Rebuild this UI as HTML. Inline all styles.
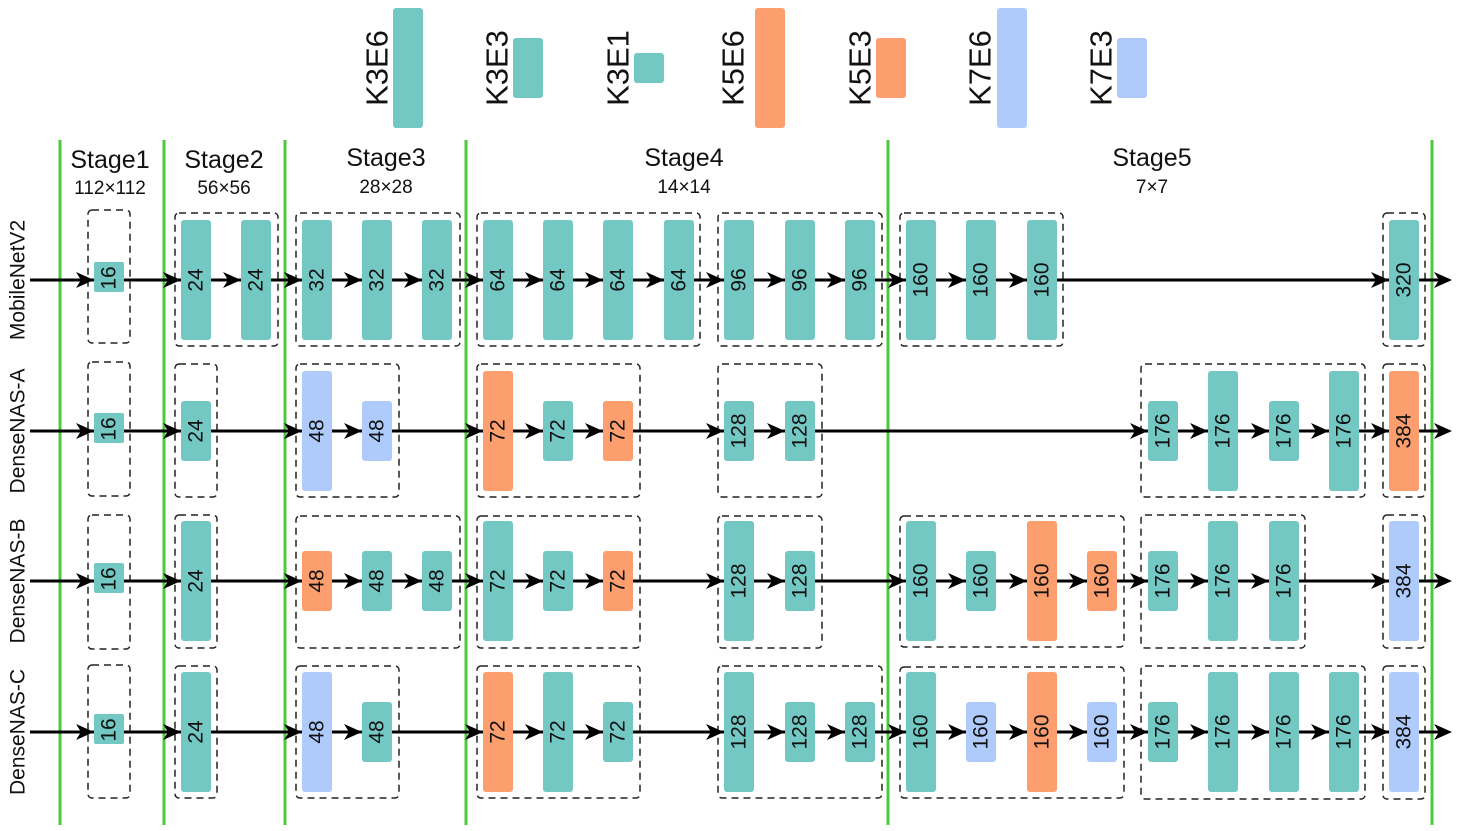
<!DOCTYPE html>
<html><head><meta charset="utf-8"><style>
html,body{margin:0;padding:0;background:#fff;width:1460px;height:831px;overflow:hidden}
svg text{font-family:"Liberation Sans",sans-serif;fill:#111}
.t{fill:#73c8c4}.o{fill:#fc9e6d}.b{fill:#aecbfc}
.d{fill:none;stroke:#222;stroke-width:1.5;stroke-dasharray:7 5}
.g{stroke:#4cc93c;stroke-width:3}
.l{stroke:#000;stroke-width:3}
.bl text{font-size:21px}
</style></head><body>
<svg width="1460" height="831" viewBox="0 0 1460 831" xmlns="http://www.w3.org/2000/svg">
<defs>
<polygon id="ah" points="0,0 -18,-8 -13,0 -18,8" fill="#000"/>
</defs>
<!-- legend -->
<rect class="t" x="393" y="8" width="30" height="120" rx="3"/>
<rect class="t" x="513" y="38" width="30" height="60" rx="3"/>
<rect class="t" x="634" y="53" width="30" height="30" rx="3"/>
<rect class="o" x="755" y="8" width="30" height="120" rx="3"/>
<rect class="o" x="876" y="38" width="30" height="60" rx="3"/>
<rect class="b" x="997" y="8" width="30" height="120" rx="3"/>
<rect class="b" x="1117" y="38" width="30" height="60" rx="3"/>
<g font-size="31">
<text transform="translate(377,68) rotate(-90)" text-anchor="middle" dominant-baseline="central">K3E6</text>
<text transform="translate(497,68) rotate(-90)" text-anchor="middle" dominant-baseline="central">K3E3</text>
<text transform="translate(618,68) rotate(-90)" text-anchor="middle" dominant-baseline="central">K3E1</text>
<text transform="translate(733,68) rotate(-90)" text-anchor="middle" dominant-baseline="central">K5E6</text>
<text transform="translate(860,68) rotate(-90)" text-anchor="middle" dominant-baseline="central">K5E3</text>
<text transform="translate(980,68) rotate(-90)" text-anchor="middle" dominant-baseline="central">K7E6</text>
<text transform="translate(1101,68) rotate(-90)" text-anchor="middle" dominant-baseline="central">K7E3</text>
</g>
<!-- stage lines -->
<line class="g" x1="60" y1="140" x2="60" y2="825"/>
<line class="g" x1="164" y1="140" x2="164" y2="825"/>
<line class="g" x1="285" y1="140" x2="285" y2="825"/>
<line class="g" x1="466" y1="140" x2="466" y2="825"/>
<line class="g" x1="888" y1="140" x2="888" y2="825"/>
<line class="g" x1="1432" y1="140" x2="1432" y2="825"/>
<!-- headers -->
<g text-anchor="middle">
<text x="110" y="168" font-size="25">Stage1</text><text x="110" y="194" font-size="19">112×112</text>
<text x="224" y="168" font-size="25">Stage2</text><text x="224" y="194" font-size="19">56×56</text>
<text x="386" y="166" font-size="25">Stage3</text><text x="386" y="193" font-size="19">28×28</text>
<text x="684" y="166" font-size="25">Stage4</text><text x="684" y="193" font-size="19">14×14</text>
<text x="1152" y="166" font-size="25">Stage5</text><text x="1152" y="193" font-size="19">7×7</text>
</g>
<!-- row labels -->
<g font-size="21" text-anchor="middle">
<text transform="translate(18,280) rotate(-90)" dominant-baseline="central">MobileNetV2</text>
<text transform="translate(18,431) rotate(-90)" dominant-baseline="central">DenseNAS-A</text>
<text transform="translate(18,581) rotate(-90)" dominant-baseline="central">DenseNAS-B</text>
<text transform="translate(18,732) rotate(-90)" dominant-baseline="central">DenseNAS-C</text>
</g>
<!-- dashed boxes -->
<rect class="d" x="88" y="210" width="42" height="133" rx="4"/>
<rect class="d" x="175" y="213" width="103" height="133" rx="4"/>
<rect class="d" x="296" y="213" width="164" height="133" rx="4"/>
<rect class="d" x="477" y="213" width="223" height="133" rx="4"/>
<rect class="d" x="718" y="213" width="164" height="133" rx="4"/>
<rect class="d" x="900" y="213" width="163" height="133" rx="4"/>
<rect class="d" x="1383" y="213" width="42" height="133" rx="4"/>

<rect class="d" x="88" y="362" width="42" height="134" rx="4"/>
<rect class="d" x="175" y="364" width="42" height="133" rx="4"/>
<rect class="d" x="296" y="364" width="103" height="133" rx="4"/>
<rect class="d" x="477" y="364" width="163" height="133" rx="4"/>
<rect class="d" x="718" y="364" width="104" height="133" rx="4"/>
<rect class="d" x="1141" y="364" width="224" height="133" rx="4"/>
<rect class="d" x="1383" y="364" width="42" height="133" rx="4"/>

<rect class="d" x="88" y="515" width="42" height="134" rx="4"/>
<rect class="d" x="175" y="515" width="42" height="133" rx="4"/>
<rect class="d" x="296" y="516" width="164" height="132" rx="4"/>
<rect class="d" x="477" y="516" width="163" height="132" rx="4"/>
<rect class="d" x="718" y="516" width="104" height="132" rx="4"/>
<rect class="d" x="900" y="516" width="224" height="131" rx="4"/>
<rect class="d" x="1141" y="515" width="164" height="133" rx="4"/>
<rect class="d" x="1383" y="515" width="42" height="133" rx="4"/>

<rect class="d" x="88" y="665" width="42" height="133" rx="4"/>
<rect class="d" x="175" y="666" width="42" height="132" rx="4"/>
<rect class="d" x="296" y="666" width="103" height="132" rx="4"/>
<rect class="d" x="477" y="666" width="163" height="132" rx="4"/>
<rect class="d" x="718" y="666" width="164" height="132" rx="4"/>
<rect class="d" x="900" y="667" width="224" height="131" rx="4"/>
<rect class="d" x="1141" y="666" width="224" height="133" rx="4"/>
<rect class="d" x="1383" y="666" width="42" height="133" rx="4"/>

<!-- row lines -->
<line class="l" x1="30" y1="280" x2="1440" y2="280"/>
<line class="l" x1="30" y1="431" x2="1440" y2="431"/>
<line class="l" x1="30" y1="581" x2="1440" y2="581"/>
<line class="l" x1="30" y1="732" x2="1440" y2="732"/>

<!-- arrowheads row1 -->
<g transform="translate(0,280)">
<use href="#ah" x="94"/><use href="#ah" x="181"/><use href="#ah" x="241"/><use href="#ah" x="302"/><use href="#ah" x="362"/><use href="#ah" x="422"/><use href="#ah" x="483"/><use href="#ah" x="543"/><use href="#ah" x="603"/><use href="#ah" x="664"/><use href="#ah" x="724"/><use href="#ah" x="785"/><use href="#ah" x="845"/><use href="#ah" x="906"/><use href="#ah" x="966"/><use href="#ah" x="1027"/><use href="#ah" x="1389"/><use href="#ah" x="1452"/>
</g>
<g transform="translate(0,431)">
<use href="#ah" x="94"/><use href="#ah" x="181"/><use href="#ah" x="302"/><use href="#ah" x="362"/><use href="#ah" x="483"/><use href="#ah" x="543"/><use href="#ah" x="603"/><use href="#ah" x="724"/><use href="#ah" x="785"/><use href="#ah" x="1148"/><use href="#ah" x="1208"/><use href="#ah" x="1269"/><use href="#ah" x="1329"/><use href="#ah" x="1389"/><use href="#ah" x="1452"/>
</g>
<g transform="translate(0,581)">
<use href="#ah" x="94"/><use href="#ah" x="181"/><use href="#ah" x="302"/><use href="#ah" x="362"/><use href="#ah" x="422"/><use href="#ah" x="483"/><use href="#ah" x="543"/><use href="#ah" x="603"/><use href="#ah" x="724"/><use href="#ah" x="785"/><use href="#ah" x="906"/><use href="#ah" x="966"/><use href="#ah" x="1027"/><use href="#ah" x="1087"/><use href="#ah" x="1148"/><use href="#ah" x="1208"/><use href="#ah" x="1269"/><use href="#ah" x="1389"/><use href="#ah" x="1452"/>
</g>
<g transform="translate(0,732)">
<use href="#ah" x="94"/><use href="#ah" x="181"/><use href="#ah" x="302"/><use href="#ah" x="362"/><use href="#ah" x="483"/><use href="#ah" x="543"/><use href="#ah" x="603"/><use href="#ah" x="724"/><use href="#ah" x="785"/><use href="#ah" x="845"/><use href="#ah" x="906"/><use href="#ah" x="966"/><use href="#ah" x="1027"/><use href="#ah" x="1087"/><use href="#ah" x="1148"/><use href="#ah" x="1208"/><use href="#ah" x="1269"/><use href="#ah" x="1329"/><use href="#ah" x="1389"/><use href="#ah" x="1452"/>
</g>

<!-- blocks row1 (c=280) -->
<g class="bl">
<rect class="t" x="94" y="262" width="30" height="30" rx="2"/>
<rect class="t" x="181" y="220" width="30" height="120" rx="3"/>
<rect class="t" x="241" y="220" width="30" height="120" rx="3"/>
<rect class="t" x="302" y="220" width="30" height="120" rx="3"/>
<rect class="t" x="362" y="220" width="30" height="120" rx="3"/>
<rect class="t" x="422" y="220" width="30" height="120" rx="3"/>
<rect class="t" x="483" y="220" width="30" height="120" rx="3"/>
<rect class="t" x="543" y="220" width="30" height="120" rx="3"/>
<rect class="t" x="603" y="220" width="30" height="120" rx="3"/>
<rect class="t" x="664" y="220" width="30" height="120" rx="3"/>
<rect class="t" x="724" y="220" width="30" height="120" rx="3"/>
<rect class="t" x="785" y="220" width="30" height="120" rx="3"/>
<rect class="t" x="845" y="220" width="30" height="120" rx="3"/>
<rect class="t" x="906" y="220" width="30" height="120" rx="3"/>
<rect class="t" x="966" y="220" width="30" height="120" rx="3"/>
<rect class="t" x="1027" y="220" width="30" height="120" rx="3"/>
<rect class="t" x="1389" y="220" width="30" height="120" rx="3"/>
<g text-anchor="middle" dominant-baseline="central">
<text transform="translate(109,278) rotate(-90)">16</text>
<text transform="translate(196,280) rotate(-90)">24</text>
<text transform="translate(256,280) rotate(-90)">24</text>
<text transform="translate(317,280) rotate(-90)">32</text>
<text transform="translate(377,280) rotate(-90)">32</text>
<text transform="translate(437,280) rotate(-90)">32</text>
<text transform="translate(498,280) rotate(-90)">64</text>
<text transform="translate(558,280) rotate(-90)">64</text>
<text transform="translate(618,280) rotate(-90)">64</text>
<text transform="translate(679,280) rotate(-90)">64</text>
<text transform="translate(739,280) rotate(-90)">96</text>
<text transform="translate(800,280) rotate(-90)">96</text>
<text transform="translate(860,280) rotate(-90)">96</text>
<text transform="translate(921,280) rotate(-90)">160</text>
<text transform="translate(981,280) rotate(-90)">160</text>
<text transform="translate(1042,280) rotate(-90)">160</text>
<text transform="translate(1404,280) rotate(-90)">320</text>
</g>

<!-- row2 (c=431) -->
<rect class="t" x="94" y="413" width="30" height="30" rx="2"/>
<rect class="t" x="181" y="401" width="30" height="60" rx="3"/>
<rect class="b" x="302" y="371" width="30" height="120" rx="3"/>
<rect class="b" x="362" y="401" width="30" height="60" rx="3"/>
<rect class="o" x="483" y="371" width="30" height="120" rx="3"/>
<rect class="t" x="543" y="401" width="30" height="60" rx="3"/>
<rect class="o" x="603" y="401" width="30" height="60" rx="3"/>
<rect class="t" x="724" y="401" width="30" height="60" rx="3"/>
<rect class="t" x="785" y="401" width="30" height="60" rx="3"/>
<rect class="t" x="1148" y="401" width="30" height="60" rx="3"/>
<rect class="t" x="1208" y="371" width="30" height="120" rx="3"/>
<rect class="t" x="1269" y="401" width="30" height="60" rx="3"/>
<rect class="t" x="1329" y="371" width="30" height="120" rx="3"/>
<rect class="o" x="1389" y="371" width="30" height="120" rx="3"/>
<g text-anchor="middle" dominant-baseline="central">
<text transform="translate(109,429) rotate(-90)">16</text>
<text transform="translate(196,431) rotate(-90)">24</text>
<text transform="translate(317,431) rotate(-90)">48</text>
<text transform="translate(377,431) rotate(-90)">48</text>
<text transform="translate(498,431) rotate(-90)">72</text>
<text transform="translate(558,431) rotate(-90)">72</text>
<text transform="translate(618,431) rotate(-90)">72</text>
<text transform="translate(739,431) rotate(-90)">128</text>
<text transform="translate(800,431) rotate(-90)">128</text>
<text transform="translate(1163,431) rotate(-90)">176</text>
<text transform="translate(1223,431) rotate(-90)">176</text>
<text transform="translate(1284,431) rotate(-90)">176</text>
<text transform="translate(1344,431) rotate(-90)">176</text>
<text transform="translate(1404,431) rotate(-90)">384</text>
</g>

<!-- row3 (c=581) -->
<rect class="t" x="94" y="563" width="30" height="30" rx="2"/>
<rect class="t" x="181" y="521" width="30" height="120" rx="3"/>
<rect class="o" x="302" y="551" width="30" height="60" rx="3"/>
<rect class="t" x="362" y="551" width="30" height="60" rx="3"/>
<rect class="t" x="422" y="551" width="30" height="60" rx="3"/>
<rect class="t" x="483" y="521" width="30" height="120" rx="3"/>
<rect class="t" x="543" y="551" width="30" height="60" rx="3"/>
<rect class="o" x="603" y="551" width="30" height="60" rx="3"/>
<rect class="t" x="724" y="521" width="30" height="120" rx="3"/>
<rect class="t" x="785" y="551" width="30" height="60" rx="3"/>
<rect class="t" x="906" y="521" width="30" height="120" rx="3"/>
<rect class="t" x="966" y="551" width="30" height="60" rx="3"/>
<rect class="o" x="1027" y="521" width="30" height="120" rx="3"/>
<rect class="o" x="1087" y="551" width="30" height="60" rx="3"/>
<rect class="t" x="1148" y="551" width="30" height="60" rx="3"/>
<rect class="t" x="1208" y="521" width="30" height="120" rx="3"/>
<rect class="t" x="1269" y="521" width="30" height="120" rx="3"/>
<rect class="b" x="1389" y="521" width="30" height="120" rx="3"/>
<g text-anchor="middle" dominant-baseline="central">
<text transform="translate(109,579) rotate(-90)">16</text>
<text transform="translate(196,581) rotate(-90)">24</text>
<text transform="translate(317,581) rotate(-90)">48</text>
<text transform="translate(377,581) rotate(-90)">48</text>
<text transform="translate(437,581) rotate(-90)">48</text>
<text transform="translate(498,581) rotate(-90)">72</text>
<text transform="translate(558,581) rotate(-90)">72</text>
<text transform="translate(618,581) rotate(-90)">72</text>
<text transform="translate(739,581) rotate(-90)">128</text>
<text transform="translate(800,581) rotate(-90)">128</text>
<text transform="translate(921,581) rotate(-90)">160</text>
<text transform="translate(981,581) rotate(-90)">160</text>
<text transform="translate(1042,581) rotate(-90)">160</text>
<text transform="translate(1102,581) rotate(-90)">160</text>
<text transform="translate(1163,581) rotate(-90)">176</text>
<text transform="translate(1223,581) rotate(-90)">176</text>
<text transform="translate(1284,581) rotate(-90)">176</text>
<text transform="translate(1404,581) rotate(-90)">384</text>
</g>

<!-- row4 (c=732) -->
<rect class="t" x="94" y="714" width="30" height="30" rx="2"/>
<rect class="t" x="181" y="672" width="30" height="120" rx="3"/>
<rect class="b" x="302" y="672" width="30" height="120" rx="3"/>
<rect class="t" x="362" y="702" width="30" height="60" rx="3"/>
<rect class="o" x="483" y="672" width="30" height="120" rx="3"/>
<rect class="t" x="543" y="672" width="30" height="120" rx="3"/>
<rect class="t" x="603" y="702" width="30" height="60" rx="3"/>
<rect class="t" x="724" y="672" width="30" height="120" rx="3"/>
<rect class="t" x="785" y="702" width="30" height="60" rx="3"/>
<rect class="t" x="845" y="702" width="30" height="60" rx="3"/>
<rect class="t" x="906" y="672" width="30" height="120" rx="3"/>
<rect class="b" x="966" y="702" width="30" height="60" rx="3"/>
<rect class="o" x="1027" y="672" width="30" height="120" rx="3"/>
<rect class="b" x="1087" y="702" width="30" height="60" rx="3"/>
<rect class="t" x="1148" y="702" width="30" height="60" rx="3"/>
<rect class="t" x="1208" y="672" width="30" height="120" rx="3"/>
<rect class="t" x="1269" y="672" width="30" height="120" rx="3"/>
<rect class="t" x="1329" y="672" width="30" height="120" rx="3"/>
<rect class="b" x="1389" y="672" width="30" height="120" rx="3"/>
<g text-anchor="middle" dominant-baseline="central">
<text transform="translate(109,730) rotate(-90)">16</text>
<text transform="translate(196,732) rotate(-90)">24</text>
<text transform="translate(317,732) rotate(-90)">48</text>
<text transform="translate(377,732) rotate(-90)">48</text>
<text transform="translate(498,732) rotate(-90)">72</text>
<text transform="translate(558,732) rotate(-90)">72</text>
<text transform="translate(618,732) rotate(-90)">72</text>
<text transform="translate(739,732) rotate(-90)">128</text>
<text transform="translate(800,732) rotate(-90)">128</text>
<text transform="translate(860,732) rotate(-90)">128</text>
<text transform="translate(921,732) rotate(-90)">160</text>
<text transform="translate(981,732) rotate(-90)">160</text>
<text transform="translate(1042,732) rotate(-90)">160</text>
<text transform="translate(1102,732) rotate(-90)">160</text>
<text transform="translate(1163,732) rotate(-90)">176</text>
<text transform="translate(1223,732) rotate(-90)">176</text>
<text transform="translate(1284,732) rotate(-90)">176</text>
<text transform="translate(1344,732) rotate(-90)">176</text>
<text transform="translate(1404,732) rotate(-90)">384</text>
</g>
</g>
</svg>
</body></html>
